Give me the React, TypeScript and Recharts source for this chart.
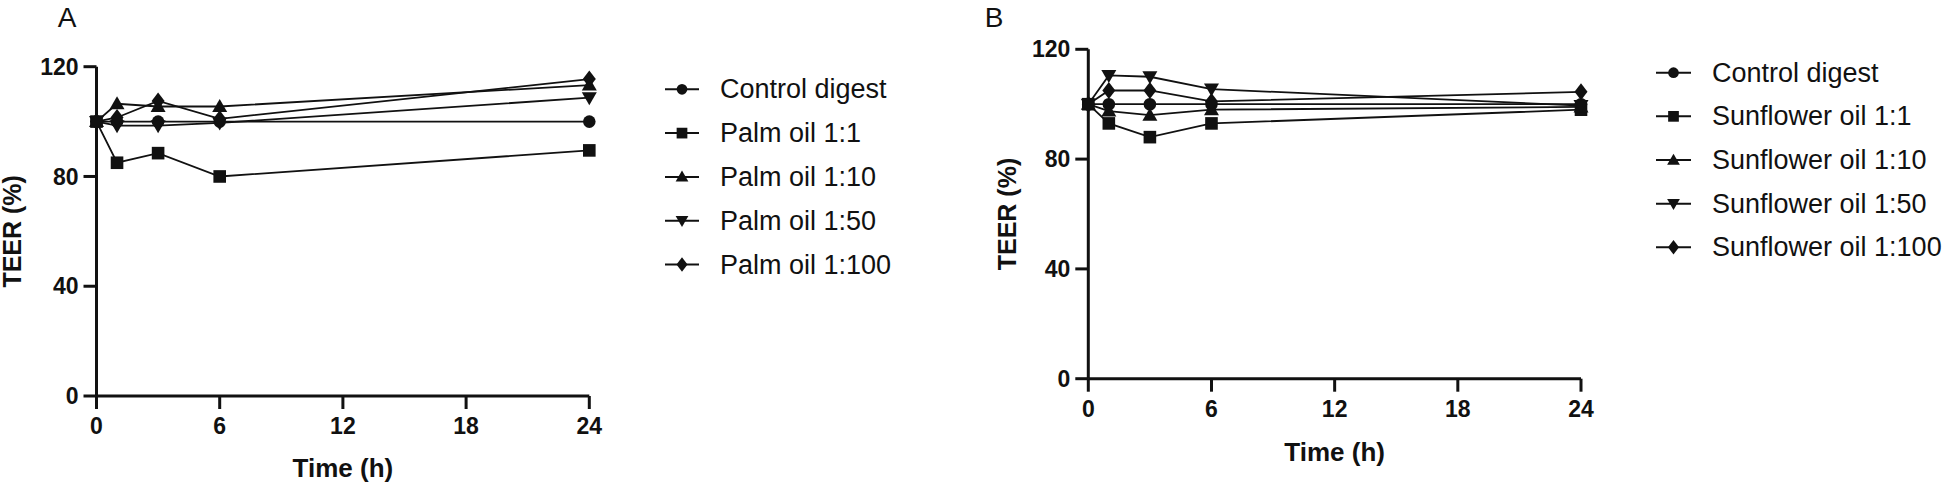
import React from 'react';
import { LineChart, Line, XAxis, YAxis } from 'recharts';

const timePoints = [0, 1, 3, 6, 24];
const xTicks = [0, 6, 12, 18, 24];
const yTicks = [0, 40, 80, 120];

const palmNames = ['Control digest', 'Palm oil 1:1', 'Palm oil 1:10', 'Palm oil 1:50', 'Palm oil 1:100'];
const sunNames = ['Control digest', 'Sunflower oil 1:1', 'Sunflower oil 1:10', 'Sunflower oil 1:50', 'Sunflower oil 1:100'];

const palmControl = [100, 100, 100, 100, 100];
const palm1 = [100, 85, 88.5, 80, 89.5];
const palm10 = [100, 106.5, 105.5, 105.5, 113.3];
const palm50 = [100, 98.5, 98.5, 99.5, 108.7];
const palm100 = [100, 101.5, 107.5, 101, 115.5];

const sunControl = [100, 100, 100, 100, 100];
const sun1 = [100, 93, 88, 93, 98];
const sun10 = [100, 97.5, 96, 98, 99];
const sun50 = [100, 110.5, 110, 105.5, 99.5];
const sun100 = [100, 105, 105, 101, 104.5];

const shapes = ['circle', 'square', 'triangle', 'triangleDown', 'diamond'];

const FONT = '"Liberation Sans", Arial, Helvetica, sans-serif';
const INK = '#111';

function buildRows(series: number[][]) {
  return timePoints.map((t, i) => {
    const row: any = { t };
    series.forEach((s, k) => {
      row['s' + k] = s[i];
    });
    return row;
  });
}

function Marker({ cx, cy, shape, scale = 1 }: any) {
  if (cx == null || cy == null || isNaN(cx) || isNaN(cy)) return null;
  const k = scale;
  switch (shape) {
    case 'circle':
      return <circle cx={cx} cy={cy} r={6.3 * k} fill={INK} />;
    case 'square': {
      const s = 6.3 * k;
      return <rect x={cx - s} y={cy - s} width={2 * s} height={2 * s} fill={INK} />;
    }
    case 'triangle':
      return (
        <polygon
          points={`${cx},${cy - 7.5 * k} ${cx + 7.5 * k},${cy + 5.5 * k} ${cx - 7.5 * k},${cy + 5.5 * k}`}
          fill={INK}
        />
      );
    case 'triangleDown':
      return (
        <polygon
          points={`${cx},${cy + 7.5 * k} ${cx + 7.5 * k},${cy - 5.5 * k} ${cx - 7.5 * k},${cy - 5.5 * k}`}
          fill={INK}
        />
      );
    case 'diamond':
      return (
        <polygon
          points={`${cx},${cy - 8.5 * k} ${cx + 6.5 * k},${cy} ${cx},${cy + 8.5 * k} ${cx - 6.5 * k},${cy}`}
          fill={INK}
        />
      );
    default:
      return null;
  }
}

function makeDot(shape: string) {
  return (props: any) => (
    <Marker key={`${shape}-${props.index}`} cx={props.cx} cy={props.cy} shape={shape} />
  );
}

type PanelProps = {
  left: number;
  width: number;
  plotLeft: number;
  plotRight: number;
  plotTop: number;
  plotBottom: number;
  yLabelX: number;
  xLabelDy: number;
  series: number[][];
};

function Panel({ left, width, plotLeft, plotRight, plotTop, plotBottom, yLabelX, xLabelDy, series }: PanelProps) {
  const data = buildRows(series);
  const height = 486;
  const tickStyle = { fontFamily: FONT, fontWeight: 700, fontSize: 23, fill: INK };
  return (
    <div style={{ position: 'absolute', left, top: 0 }}>
      <LineChart
        width={width}
        height={height}
        data={data}
        margin={{ top: plotTop, right: width - plotRight, left: 0, bottom: 0 }}
      >
        <XAxis
          type="number"
          dataKey="t"
          domain={[0, 24]}
          ticks={xTicks}
          interval={0}
          height={height - plotBottom}
          tickSize={13}
          tickMargin={9}
          axisLine={{ stroke: INK, strokeWidth: 3 }}
          tickLine={{ stroke: INK, strokeWidth: 3 }}
          tick={tickStyle}
          label={{
            content: ({ viewBox }: any) => (
              <text
                x={viewBox.x + viewBox.width / 2}
                y={viewBox.y + xLabelDy}
                textAnchor="middle"
                dominantBaseline="central"
                fontFamily={FONT}
                fontWeight={700}
                fontSize={26}
                fill={INK}
              >
                Time (h)
              </text>
            ),
          }}
        />
        <YAxis
          type="number"
          domain={[0, 120]}
          ticks={yTicks}
          interval={0}
          width={plotLeft}
          tickSize={13}
          tickMargin={5}
          axisLine={{ stroke: INK, strokeWidth: 3 }}
          tickLine={{ stroke: INK, strokeWidth: 3 }}
          tick={tickStyle}
          label={{
            content: ({ viewBox }: any) => {
              const cy = viewBox.y + viewBox.height / 2;
              return (
                <text
                  x={yLabelX}
                  y={cy}
                  transform={`rotate(-90, ${yLabelX}, ${cy})`}
                  textAnchor="middle"
                  dominantBaseline="central"
                  fontFamily={FONT}
                  fontWeight={700}
                  fontSize={25}
                  fill={INK}
                >
                  TEER (%)
                </text>
              );
            },
          }}
        />
        {series.map((_, k) => (
          <Line
            key={k}
            type="linear"
            dataKey={'s' + k}
            stroke={INK}
            strokeWidth={1.8}
            dot={makeDot(shapes[k])}
            activeDot={false}
            isAnimationActive={false}
          />
        ))}
      </LineChart>
    </div>
  );
}

function LegendBlock({ names, lineX1, lineX2, textX, y0, dy }: any) {
  return (
    <g>
      {names.map((n: string, i: number) => {
        const y = y0 + i * dy;
        const mx = (lineX1 + lineX2) / 2;
        return (
          <g key={n}>
            <line x1={lineX1} x2={lineX2} y1={y} y2={y} stroke={INK} strokeWidth={2} />
            <Marker cx={mx} cy={y} shape={shapes[i]} scale={0.85} />
            <text
              x={textX}
              y={y}
              dominantBaseline="central"
              fontFamily={FONT}
              fontSize={27}
              fill={INK}
            >
              {n}
            </text>
          </g>
        );
      })}
    </g>
  );
}

export default function App() {
  return (
    <div
      style={{
        position: 'absolute',
        left: 0,
        top: 0,
        width: 1943,
        height: 486,
        background: '#fff',
        overflow: 'hidden',
      }}
    >
      <Panel
        left={0}
        width={640}
        plotLeft={96.5}
        plotRight={589.3}
        plotTop={66.7}
        plotBottom={396}
        yLabelX={12.5}
        xLabelDy={72}
        series={[palmControl, palm1, palm10, palm50, palm100]}
      />
      <Panel
        left={990}
        width={650}
        plotLeft={98.3}
        plotRight={591}
        plotTop={49.3}
        plotBottom={378.7}
        yLabelX={17}
        xLabelDy={73}
        series={[sunControl, sun1, sun10, sun50, sun100]}
      />
      <svg
        width={1943}
        height={486}
        style={{ position: 'absolute', left: 0, top: 0, pointerEvents: 'none' }}
      >
        <text x={67} y={27} textAnchor="middle" fontFamily={FONT} fontSize={28} fill={INK}>
          A
        </text>
        <text x={994} y={27} textAnchor="middle" fontFamily={FONT} fontSize={28} fill={INK}>
          B
        </text>
        <LegendBlock names={palmNames} lineX1={665} lineX2={699} textX={720} y0={89.3} dy={43.8} />
        <LegendBlock names={sunNames} lineX1={1656} lineX2={1691} textX={1712} y0={72.7} dy={43.65} />
      </svg>
    </div>
  );
}
